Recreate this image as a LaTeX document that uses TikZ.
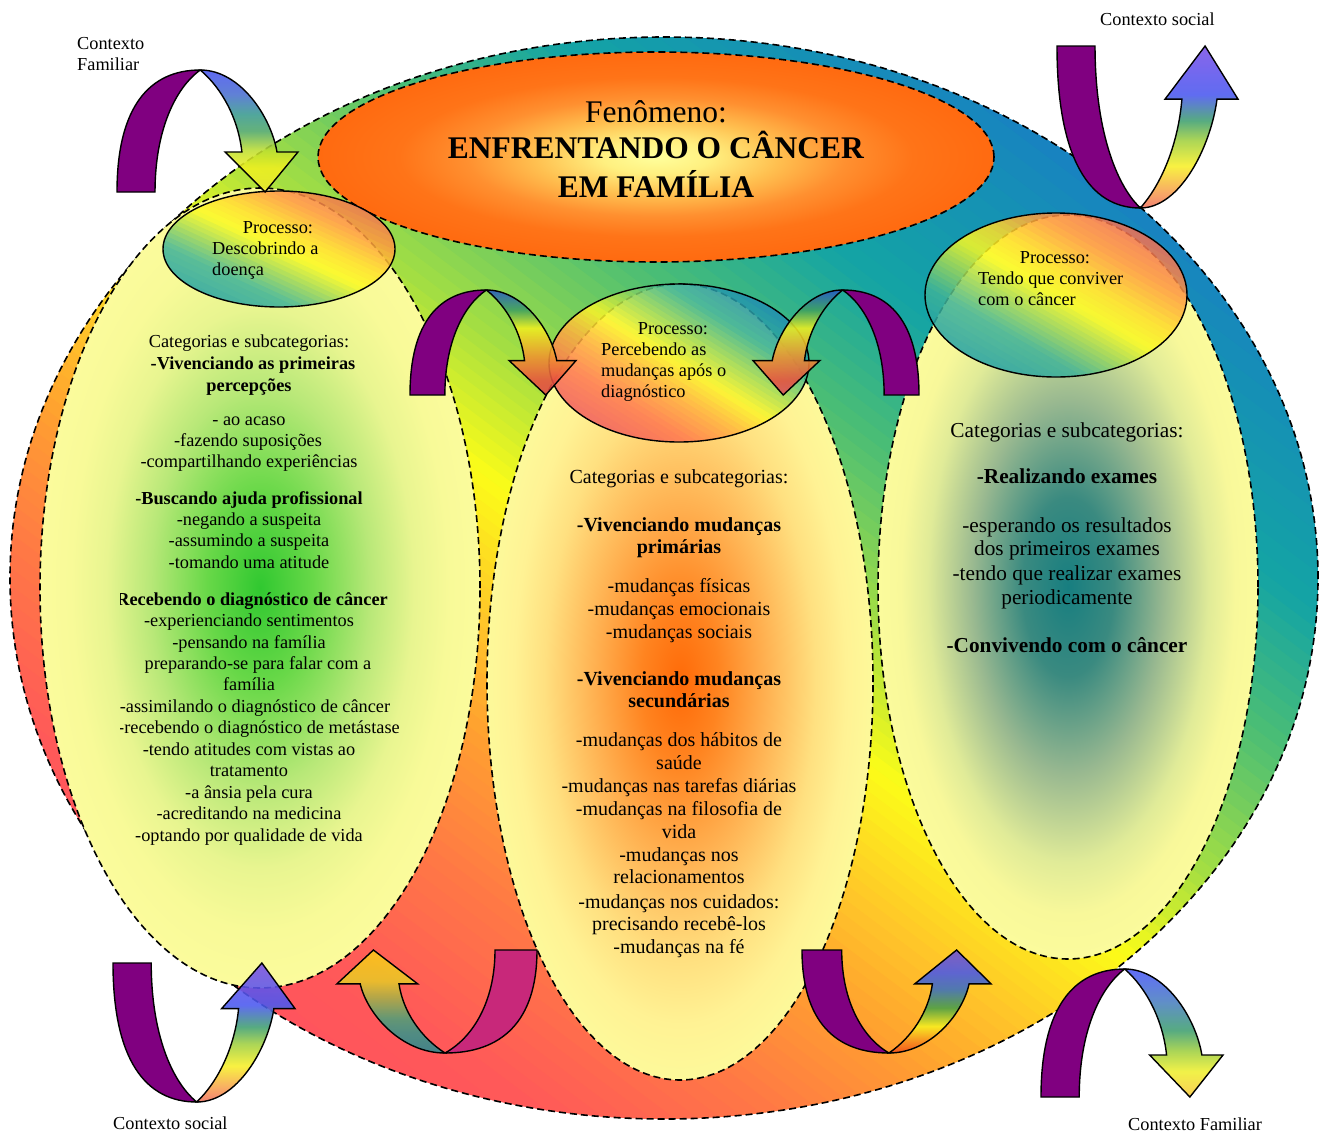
\documentclass[tikz,border=0pt]{standalone}
\usepackage{fontspec}
\setmainfont{Liberation Serif}

\newcommand\hx[2]{\definecolor{#1}{HTML}{#2}}
% ribbons
\hx{ribbonpurple}{800080}
\hx{ribbonmagenta}{C8287A}
% big outer ellipse, cool corner -> warm corner
\hx{ogA}{1A78C8}\hx{ogB}{1592B4}\hx{ogC}{14A4A4}\hx{ogD}{4CBE74}
\hx{ogE}{A8E040}\hx{ogF}{FCFC18}\hx{ogG}{FFC828}\hx{ogH}{FFA030}
\hx{ogI}{FF7A44}\hx{ogJ}{FF5A58}\hx{ogK}{FF5060}
% process ellipses, warm -> cool
\hx{prA}{F06858}\hx{prB}{FF9A40}\hx{prC}{FFE028}\hx{prD}{FCFC20}
\hx{prE}{A0D858}\hx{prF}{40B498}\hx{prG}{20A0A8}
% middle process ellipse, cool -> warm
\hx{pmA}{2088B8}\hx{pmB}{30B098}\hx{pmC}{98D858}\hx{pmD}{FCF828}
\hx{pmE}{FFB040}\hx{pmF}{FF7850}\hx{pmG}{F05A60}
% glows of the category ellipses
\hx{lgA}{30C830}\hx{lgB}{68D848}\hx{lgC}{B8E878}\hx{lgD}{E8F590}\hx{lgE}{F8FA98}\hx{lgF}{FBFB9C}
\hx{mgA}{FF6A08}\hx{mgB}{FF8420}\hx{mgC}{FFB050}\hx{mgD}{FFE080}\hx{mgE}{FFF294}\hx{mgF}{FDF99A}
\hx{rgA}{177E80}\hx{rgB}{3A8A80}\hx{rgC}{98B890}\hx{rgD}{E0EB98}\hx{rgE}{F8F89A}\hx{rgF}{FBFB9C}
\hx{fgA}{FFFF9C}\hx{fgB}{FFF080}\hx{fgC}{FFC050}\hx{fgD}{FF9030}\hx{fgE}{FF7418}\hx{fgF}{FF6A10}
% ribbon fronts
\hx{aA}{E8E830}\hx{aB}{F0F020}\hx{aC}{C0E030}\hx{aD}{50A868}\hx{aE}{3A9A90}\hx{aF}{4A70D0}\hx{aG}{4A56F0}
\hx{bA}{F07060}\hx{bB}{F8A050}\hx{bC}{F8F028}\hx{bD}{A0D040}\hx{bE}{40A070}\hx{bF}{4A58F0}\hx{bG}{7A50E8}
\hx{cA}{E04848}\hx{cB}{E85040}\hx{cC}{F09030}\hx{cD}{F0F020}\hx{cE}{40A060}\hx{cF}{2858C8}
\hx{dA}{D85060}
\hx{fA}{2A8890}\hx{fB}{3A9488}\hx{fC}{50A078}\hx{fD}{A8B048}\hx{fE}{E8C828}\hx{fF}{FFC818}
\hx{gA}{F04818}\hx{gB}{F89020}\hx{gC}{F8F020}\hx{gD}{48A048}\hx{gE}{3A70C0}\hx{gF}{4858E8}\hx{gG}{7050D8}
\hx{hA}{F8C840}\hx{hB}{F0F030}\hx{hC}{A0D040}\hx{hD}{40A070}\hx{hE}{4A80C0}\hx{hF}{4A58F8}

% radial glows
\pgfdeclareradialshading{leftglow}{\pgfpoint{0bp}{0bp}}{color(0bp)=(lgA); color(6bp)=(lgB); color(12.5bp)=(lgC); color(17.5bp)=(lgD); color(21.5bp)=(lgE); color(25bp)=(lgF); color(50bp)=(lgF)}
\pgfdeclareradialshading{midglow}{\pgfpoint{0bp}{0bp}}{color(0bp)=(mgA); color(5bp)=(mgB); color(11bp)=(mgC); color(17.5bp)=(mgD); color(21.5bp)=(mgE); color(25bp)=(mgF); color(50bp)=(mgF)}
\pgfdeclareradialshading{rightglow}{\pgfpoint{0bp}{0bp}}{color(0bp)=(rgA); color(6bp)=(rgB); color(12.5bp)=(rgC); color(18.5bp)=(rgD); color(22bp)=(rgE); color(25bp)=(rgF); color(50bp)=(rgF)}
\pgfdeclareradialshading{phenglow}{\pgfpoint{0bp}{0bp}}{color(0bp)=(fgA); color(4bp)=(fgB); color(9bp)=(fgC); color(14bp)=(fgD); color(19bp)=(fgE); color(25bp)=(fgF); color(50bp)=(fgF)}

% ribbon front shadings (25bp = lower edge, 75bp = upper edge)
\pgfdeclareverticalshading{ribA}{100bp}{color(0bp)=(aA); color(25bp)=(aA); color(35bp)=(aB); color(42bp)=(aC); color(50bp)=(aD); color(57bp)=(aE); color(65bp)=(aF); color(75bp)=(aG); color(100bp)=(aG)}
\pgfdeclareverticalshading{ribB}{100bp}{color(0bp)=(bA); color(25bp)=(bA); color(30bp)=(bB); color(38bp)=(bC); color(46bp)=(bD); color(52bp)=(bE); color(60bp)=(bF); color(75bp)=(bG); color(100bp)=(bG)}
\pgfdeclareverticalshading{ribC}{100bp}{color(0bp)=(cA); color(25bp)=(cA); color(32bp)=(cB); color(43bp)=(cC); color(57bp)=(cD); color(65.5bp)=(cE); color(75bp)=(cF); color(100bp)=(cF)}
\pgfdeclareverticalshading{ribD}{100bp}{color(0bp)=(dA); color(25bp)=(dA); color(32bp)=(cB); color(43bp)=(cC); color(57bp)=(cD); color(65.5bp)=(cE); color(75bp)=(cF); color(100bp)=(cF)}
\pgfdeclareverticalshading{ribF}{100bp}{color(0bp)=(fA); color(25bp)=(fA); color(35bp)=(fB); color(42bp)=(fC); color(52bp)=(fD); color(60bp)=(fE); color(75bp)=(fF); color(100bp)=(fF)}
\pgfdeclareverticalshading{ribG}{100bp}{color(0bp)=(gA); color(25bp)=(gA); color(31bp)=(gB); color(38bp)=(gC); color(47bp)=(gD); color(56bp)=(gE); color(64bp)=(gF); color(75bp)=(gG); color(100bp)=(gG)}
\pgfdeclareverticalshading{ribH}{100bp}{color(0bp)=(hA); color(25bp)=(hA); color(35bp)=(hB); color(43bp)=(hC); color(51bp)=(hD); color(62bp)=(hE); color(75bp)=(hF); color(100bp)=(hF)}

% linear colour bands: from y=#1 to y=#2, colour #3 -> #4, in #5 steps
\newcommand\bandfill[5]{%
  \foreach \k in {1,...,#5}{%
    \pgfmathsetmacro\bandya{#1+(#2-#1)*(\k-1)/#5}%
    \pgfmathsetmacro\bandyb{#1+(#2-#1)*\k/#5+1.2}%
    \pgfmathtruncatemacro\bandpc{100*(\k-0.5)/#5}%
    \fill[#4!\bandpc!#3] (-800,\bandya) rectangle (800,\bandyb);
  }}

% twisted U-turn ribbon arrow in a unit frame
\newcommand\ribbonarrow[3]{%
  \begin{scope}[#1]
    \filldraw[ribbonline, fill=#2]
      (0,0) .. controls (0,0.7) and (0.18,1) .. (0.46,1)
      .. controls (0.32,0.85) and (0.21,0.5) .. (0.21,0) -- cycle;
    \shade[shading=#3, fill opacity=0.88]
      (0.46,1) .. controls (0.68,1) and (0.85,0.62) .. (0.884,0.328)
      -- (1,0.328) -- (0.818,0) -- (0.597,0.328) -- (0.69,0.328)
      .. controls (0.67,0.6) and (0.58,0.85) .. (0.46,1) -- cycle;
    \draw[ribbonline]
      (0.46,1) .. controls (0.68,1) and (0.85,0.62) .. (0.884,0.328)
      -- (1,0.328) -- (0.818,0) -- (0.597,0.328) -- (0.69,0.328)
      .. controls (0.67,0.6) and (0.58,0.85) .. (0.46,1) -- cycle;
  \end{scope}}

\begin{document}
\begin{tikzpicture}[x=1pt, y=-1pt,
  borderdash/.style={draw=black, line width=1.6pt, dash pattern=on 7pt off 4pt},
  procline/.style={draw=black, line width=1.4pt},
  ribbonline/.style={draw=black, line width=1.4pt, line join=miter},
  txtS/.style={font=\fontsize{18.3}{21.3}\selectfont, inner sep=0pt, anchor=base},
  txtM/.style={font=\fontsize{20}{23}\selectfont, inner sep=0pt, anchor=base},
  txtL/.style={font=\fontsize{21.3}{24.5}\selectfont, inner sep=0pt, anchor=base},
  txtH/.style={font=\fontsize{31.5}{37}\selectfont, inner sep=0pt, anchor=base}]

\fill[white] (0,0) rectangle (1322,1133);

% ---------- outer ellipse with diagonal colour ramp ----------
\begin{scope}
  \clip (664,578) ellipse [x radius=654pt, y radius=541pt];
  \begin{scope}[shift={(664,578)}, rotate=-36.87]
    \bandfill{-640}{-494}{ogA}{ogB}{8}
    \bandfill{-494}{-364}{ogB}{ogC}{8}
    \bandfill{-364}{-234}{ogC}{ogD}{10}
    \bandfill{-234}{-84}{ogD}{ogE}{12}
    \bandfill{-84}{26}{ogE}{ogF}{10}
    \bandfill{26}{136}{ogF}{ogG}{10}
    \bandfill{136}{236}{ogG}{ogH}{8}
    \bandfill{236}{356}{ogH}{ogI}{10}
    \bandfill{356}{496}{ogI}{ogJ}{10}
    \bandfill{496}{640}{ogJ}{ogK}{6}
  \end{scope}
\end{scope}
\draw[borderdash] (664,578) ellipse [x radius=654pt, y radius=541pt];

% ---------- phenomenon ellipse ----------
\shade[shading=phenglow] (656,157) ellipse [x radius=338pt, y radius=105pt];
\draw[borderdash] (656,157) ellipse [x radius=338pt, y radius=105pt];

% ---------- category ellipses ----------
\shade[shading=leftglow] (260,588) ellipse [x radius=220pt, y radius=400pt];
\draw[borderdash] (260,588) ellipse [x radius=220pt, y radius=400pt];
\shade[shading=midglow] (680,682) ellipse [x radius=193pt, y radius=398pt];
\draw[borderdash] (680,682) ellipse [x radius=193pt, y radius=398pt];
\shade[shading=rightglow] (1068,587) ellipse [x radius=190pt, y radius=372pt];
\draw[borderdash] (1068,587) ellipse [x radius=190pt, y radius=372pt];

% ---------- process ellipses ----------
\begin{scope}[transparency group, opacity=0.85]
  \clip (279,249) ellipse [x radius=116pt, y radius=58pt];
  \begin{scope}[shift={(279,249)}, rotate=-25]
    \bandfill{-80}{-48}{prA}{prB}{6}
    \bandfill{-48}{-20}{prB}{prC}{6}
    \bandfill{-20}{0}{prC}{prD}{4}
    \bandfill{0}{22}{prD}{prE}{5}
    \bandfill{22}{45}{prE}{prF}{5}
    \bandfill{45}{80}{prF}{prG}{6}
  \end{scope}
\end{scope}
\draw[procline] (279,249) ellipse [x radius=116pt, y radius=58pt];

\begin{scope}[transparency group, opacity=0.85]
  \clip (679,363) ellipse [x radius=130pt, y radius=79pt];
  \begin{scope}[shift={(679,363)}, rotate=-32]
    \bandfill{-100}{-60}{pmA}{pmB}{7}
    \bandfill{-60}{-30}{pmB}{pmC}{6}
    \bandfill{-30}{0}{pmC}{pmD}{6}
    \bandfill{0}{30}{pmD}{pmE}{6}
    \bandfill{30}{62}{pmE}{pmF}{6}
    \bandfill{62}{100}{pmF}{pmG}{7}
  \end{scope}
\end{scope}
\draw[procline] (679,363) ellipse [x radius=130pt, y radius=79pt];

\begin{scope}[transparency group, opacity=0.85]
  \clip (1056,295) ellipse [x radius=131pt, y radius=82pt];
  \begin{scope}[shift={(1056,295)}, rotate=-30]
    \bandfill{-100}{-60}{prA}{prB}{7}
    \bandfill{-60}{-25}{prB}{prC}{6}
    \bandfill{-25}{0}{prC}{prD}{5}
    \bandfill{0}{28}{prD}{prE}{6}
    \bandfill{28}{57}{prE}{prF}{6}
    \bandfill{57}{100}{prF}{prG}{7}
  \end{scope}
\end{scope}
\draw[procline] (1056,295) ellipse [x radius=131pt, y radius=82pt];

% ---------- ribbon arrows ----------
\ribbonarrow{shift={(117,192)}, xscale=181, yscale=-122}{ribbonpurple}{ribA}
\ribbonarrow{shift={(1057,46)}, xscale=181, yscale=162}{ribbonpurple}{ribB}
\ribbonarrow{shift={(410,395)}, xscale=166, yscale=-105}{ribbonpurple}{ribC}
\ribbonarrow{shift={(919,395)}, xscale=-166, yscale=-105}{ribbonpurple}{ribD}
\ribbonarrow{shift={(113,963)}, xscale=182, yscale=139}{ribbonpurple}{ribB}
\ribbonarrow{shift={(537,950)}, xscale=-200, yscale=103}{ribbonmagenta}{ribF}
\ribbonarrow{shift={(802,950)}, xscale=189, yscale=103}{ribbonpurple}{ribG}
\ribbonarrow{shift={(1041,1097)}, xscale=182, yscale=-128}{ribbonpurple}{ribH}

% ---------- phenomenon text ----------
\node[txtH] (ph1) at (656,122) {Fenômeno:};
\node[txtH] (ph2) at (656,158) {\textbf{ENFRENTANDO O CÂNCER}};
\node[txtH] (ph3) at (656,197) {\textbf{EM FAMÍLIA}};

% ---------- process labels ----------
\node[txtS] (p1a) at (278,233) {Processo:};
\node[txtS, anchor=base west] (p1b) at (212,254) {Descobrindo a};
\node[txtS, anchor=base west] (p1c) at (212,275) {doença};

\node[txtS] (p2a) at (673,334) {Processo:};
\node[txtS, anchor=base west] (p2b) at (601,355) {Percebendo as};
\node[txtS, anchor=base west] (p2c) at (601,376) {mudanças após o};
\node[txtS, anchor=base west] (p2d) at (601,397) {diagnóstico};

\node[txtS] (p3a) at (1055,263) {Processo:};
\node[txtS, anchor=base west] (p3b) at (978,284) {Tendo que conviver};
\node[txtS, anchor=base west] (p3c) at (978,305) {com o câncer};

% ---------- context labels ----------
\node[txtS, anchor=base west] (cx1) at (77,49) {Contexto};
\node[txtS, anchor=base west] (cx2) at (77,70) {Familiar};
\node[txtS, anchor=base west] (cx3) at (1100,25) {Contexto social};
\node[txtS, anchor=base west] (cx4) at (113,1129) {Contexto social};
\node[txtS, anchor=base west] (cx5) at (1128,1130) {Contexto Familiar};

% ---------- left categories ----------
\begin{scope}
  \clip (120,320) rectangle (480,860);
  \foreach \x/\y/\t [count=\i] in {
    249/341/{Categorias e subcategorias:},
    253/363/{\textbf{-Vivenciando as primeiras}},
    249/385/{\textbf{percepções}},
    249/419/{- ao acaso},
    248/440/{-fazendo suposições},
    249/461/{-compartilhando experiências},
    249/498/{\textbf{-Buscando ajuda profissional}},
    249/519/{-negando a suspeita},
    249/540/{-assumindo a suspeita},
    249/562/{-tomando uma atitude},
    249/599/{\textbf{-Recebendo o diagnóstico de câncer}},
    249/620/{-experienciando sentimentos},
    249/642/{-pensando na família},
    258/663/{preparando-se para falar com a},
    249/684/{família},
    255/706/{-assimilando o diagnóstico de câncer},
    259/727/{-recebendo o diagnóstico de metástase},
    249/749/{-tendo atitudes com vistas ao},
    249/770/{tratamento},
    249/792/{-a ânsia pela cura},
    249/813/{-acreditando na medicina},
    249/835/{-optando por qualidade de vida}}
    {\node[txtS] (lc\i) at (\x,\y+6) {\t};}
\end{scope}

% ---------- middle categories ----------
\foreach \y/\t [count=\i] in {
    477/{Categorias e subcategorias:},
    525/{\textbf{-Vivenciando mudanças}},
    547/{\textbf{primárias}},
    586/{-mudanças físicas},
    609/{-mudanças emocionais},
    632/{-mudanças sociais},
    679/{\textbf{-Vivenciando mudanças}},
    701/{\textbf{secundárias}},
    740/{-mudanças dos hábitos de},
    763/{saúde},
    786/{-mudanças nas tarefas diárias},
    809/{-mudanças na filosofia de},
    832/{vida},
    855/{-mudanças nos},
    877/{relacionamentos},
    902/{-mudanças nos cuidados:},
    924/{precisando recebê-los},
    947/{-mudanças na fé}}
  {\node[txtM] (mc\i) at (679,\y+6.5) {\t};}

% ---------- right categories ----------
\foreach \y/\t [count=\i] in {
    430/{Categorias e subcategorias:},
    476/{\textbf{-Realizando exames}},
    525/{-esperando os resultados},
    548/{dos primeiros exames},
    573/{-tendo que realizar exames},
    597/{periodicamente},
    645/{\textbf{-Convivendo com o câncer}}}
  {\node[txtL] (rc\i) at (1067,\y+7) {\t};}

\pgfresetboundingbox
\path[use as bounding box] (0,0) rectangle (1322,1133);
\end{tikzpicture}
\end{document}
